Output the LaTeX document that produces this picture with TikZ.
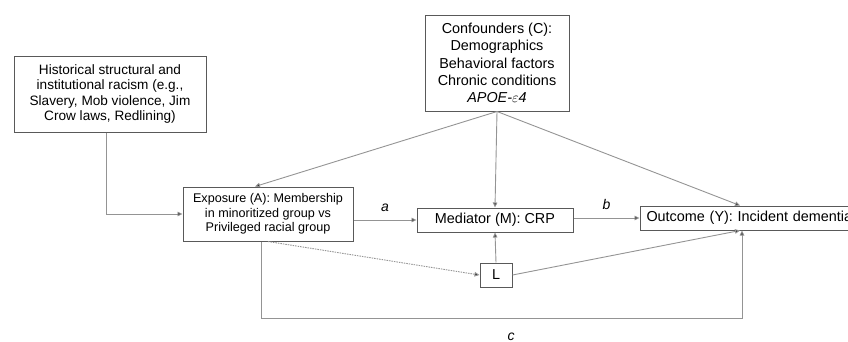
\documentclass[tikz,border=0pt]{standalone}
\usepackage{fontspec}
\setmainfont{Liberation Sans}
\usetikzlibrary{arrows.meta,calc}
\definecolor{boxline}{gray}{0.35}
\definecolor{conline}{gray}{0.58}
\begin{document}
\begin{tikzpicture}[x=1pt,y=-1pt,
  box/.style={draw=boxline,line width=1pt,inner sep=0pt,align=center,fill=white},
  con/.style={draw=conline,line width=0.9pt,-{Triangle[length=5pt,width=4.5pt,fill=black!85]}},
  lbl/.style={font=\fontsize{14}{16}\selectfont\itshape}]
\useasboundingbox (0,0) rectangle (848,341);
\node[box,minimum width=192pt,minimum height=76pt,font=\fontsize{13.6}{15.3}\selectfont] (hist) at (110,94)
  {Historical structural and\\institutional racism (e.g.,\\Slavery, Mob violence, Jim\\Crow laws, Redlining)};
\node[box,minimum width=144pt,minimum height=96pt,font=\fontsize{14.4}{17.4}\selectfont] (conf) at (497,63)
  {Confounders (C):\\Demographics\\Behavioral factors\\Chronic conditions\\\textit{APOE-$\varepsilon$4}};
\node[box,minimum width=170pt,minimum height=54pt,font=\fontsize{12.6}{14.7}\selectfont] (expo) at (268,214)
  {Exposure (A): Membership\\in minoritized group vs\\Privileged racial group};
\node[box,minimum width=156pt,minimum height=24pt,font=\fontsize{14.4}{16}\selectfont] (med) at (495,220)
  {Mediator (M): CRP};
\node[box,minimum width=221pt,minimum height=24pt,font=\fontsize{14.4}{16}\selectfont,text width=221pt,align=left] (out) at (750.5,218)
  {\hspace*{6.5pt}Outcome (Y): Incident dementia};
\node[box,minimum width=32pt,minimum height=24pt,font=\fontsize{14.4}{16}\selectfont] (L) at (496,275) {L};
% connectors
\draw[con] ([xshift=-4pt]hist.south) |- (expo.west);
\draw[con] (conf.south) -- ([xshift=-13pt]expo.north);
\draw[con] (conf.south) -- (med.north);
\draw[con] (conf.south) -- ([xshift=-10.5pt]out.north);
\draw[con] (expo.east |- med.west) -- node[lbl,above=5pt] {a} (med.west);
\draw[con] (med.east |- out.west) -- node[lbl,above=5pt] {b} (out.west);
\draw[con] (L.north) -- (med.south);
\draw[con] (L.east) -- ([xshift=-10.5pt]out.south);
\draw[con,dash pattern=on 1.5pt off 1pt] (expo.south) -- (L.west);
\coordinate (cl) at ([xshift=-7pt]expo.south);
\coordinate (cr) at ([xshift=-8.5pt]out.south);
\draw[con] (cl) -- ($(cl)+(0,77)$) -| node[lbl,pos=0.26,below=11pt] {c} (cr);
\end{tikzpicture}
\end{document}
